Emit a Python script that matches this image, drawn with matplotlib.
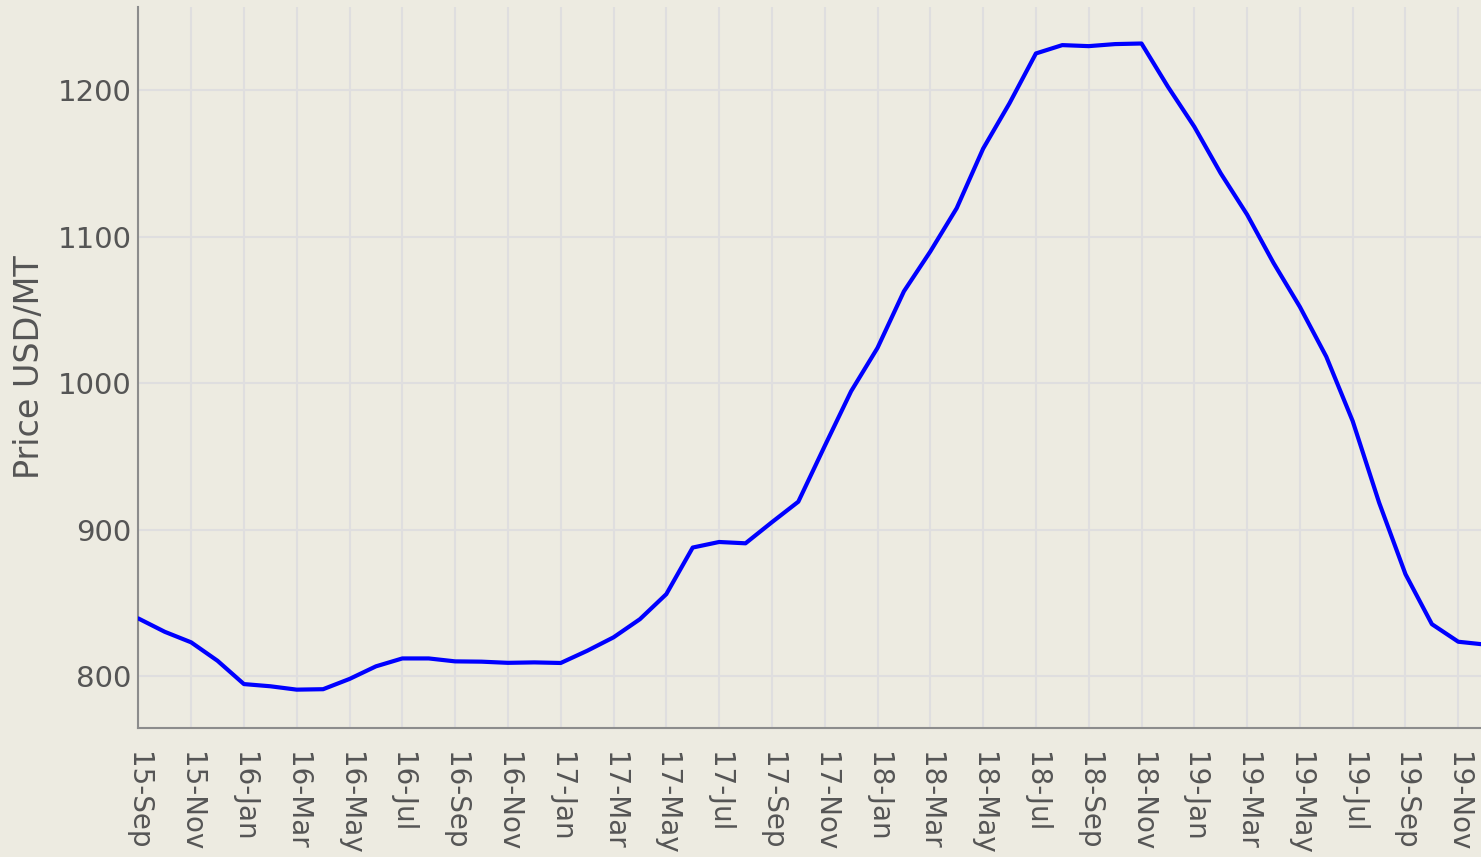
import matplotlib.pyplot as plt
import numpy as np

# monthly prices, 2015-Sep .. 2019-Dec
months = ['15-Sep', '15-Oct', '15-Nov', '15-Dec',
          '16-Jan', '16-Feb', '16-Mar', '16-Apr', '16-May', '16-Jun',
          '16-Jul', '16-Aug', '16-Sep', '16-Oct', '16-Nov', '16-Dec',
          '17-Jan', '17-Feb', '17-Mar', '17-Apr', '17-May', '17-Jun',
          '17-Jul', '17-Aug', '17-Sep', '17-Oct', '17-Nov', '17-Dec',
          '18-Jan', '18-Feb', '18-Mar', '18-Apr', '18-May', '18-Jun',
          '18-Jul', '18-Aug', '18-Sep', '18-Oct', '18-Nov', '18-Dec',
          '19-Jan', '19-Feb', '19-Mar', '19-Apr', '19-May', '19-Jun',
          '19-Jul', '19-Aug', '19-Sep', '19-Oct', '19-Nov', '19-Dec']
price = [839.3, 830.2, 823, 810.4,
         794.5, 793, 790.7, 791, 798, 806.6,
         812, 812, 810, 809.8, 809, 809.3,
         808.9, 817.2, 826.4, 838.8, 855.9, 887.7,
         891.5, 890.6, 905, 919, 957, 994.4,
         1024, 1062.6, 1089.8, 1119.4, 1160, 1191,
         1225, 1230.7, 1230, 1231.4, 1231.8, 1202.3,
         1175, 1143.2, 1115, 1082, 1052, 1018,
         974, 918.4, 869.5, 835.4, 823.4, 821.5]

bg = '#EDEBE1'
txt = '#555555'
fig = plt.figure(figsize=(14.81, 8.57), dpi=100, facecolor=bg)
ax = fig.add_axes([0.0934, 0.1505, 0.9066, 0.8413], facecolor=bg)

x = np.arange(len(months))
ax.plot(x, price, color='#0000FF', linewidth=3, solid_joinstyle='round',
        solid_capstyle='round', zorder=3)

ax.set_xlim(0, 50.86)
ax.set_ylim(764.5, 1256.7)
ax.set_xticks(x[::2])
ax.set_xticklabels(months[::2], rotation=270, fontsize=20, color=txt)
ax.set_yticks([800, 900, 1000, 1100, 1200])
ax.tick_params(axis='y', labelsize=21, colors=txt, length=0, pad=5)
ax.tick_params(axis='x', length=0, pad=17)
ax.grid(True, color='#DFDEDF', linewidth=1.5, zorder=0)

for s in ['top', 'right']:
    ax.spines[s].set_visible(False)
for s in ['left', 'bottom']:
    ax.spines[s].set_color('#8C8C8C')
    ax.spines[s].set_linewidth(1.5)

ax.set_ylabel('Price USD/MT', fontsize=24, color=txt, labelpad=8)

fig.savefig('out.png', dpi=100, facecolor=bg)
